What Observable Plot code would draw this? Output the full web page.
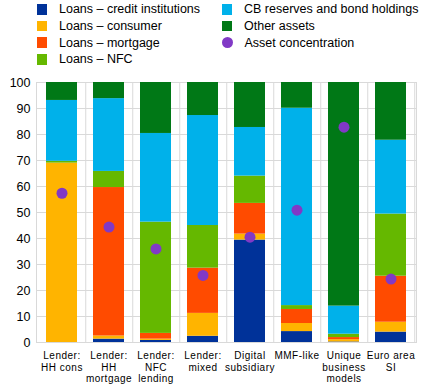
<!DOCTYPE html>
<html><head><meta charset="utf-8">
<script src="https://cdn.jsdelivr.net/npm/d3@7"></script>
<script src="https://cdn.jsdelivr.net/npm/@observablehq/plot@0.6"></script>
<style>
body{margin:0;background:#fff;font-family:"Liberation Sans",Arial,sans-serif;}
#legend{position:relative;height:70px;width:437px;font-size:12.5px;color:#000}
.col{position:absolute;top:1px}
.item{display:flex;align-items:center;height:16.7px;white-space:nowrap}
.sw{width:10.5px;height:10.5px;margin-right:12px;flex:none}
.sw.dot{border-radius:50%;width:11px;height:11px}
g[aria-label="x-axis tick label"]{letter-spacing:0.5px}
</style></head><body>
<div id="legend"></div><div id="chart"></div>
<script>
const categories = ["Lender:\nHH cons", "Lender:\nHH\nmortgage", "Lender:\nNFC\nlending", "Lender:\nmixed", "Digital\nsubsidiary", "MMF-like", "Unique\nbusiness\nmodels", "Euro area\nSI"];
const seriesNames = ["Loans – credit institutions", "Loans – consumer", "Loans – mortgage", "Loans – NFC", "CB reserves and bond holdings", "Other assets"];
const seriesColors = ["#003299", "#FFB400", "#FF4B00", "#65B800", "#00B1EA", "#007816"];
const loansCredit   = [0,    1.3,  0.8,  2.4,  39.4, 4.2,  0.2,  4.0];
const loansConsumer = [69.0, 1.2,  0.5,  8.8,  2.3,  3.1,  0.9,  3.8];
const loansMortgage = [0,    57.1, 2.2,  17.4, 11.8, 5.4,  0.8,  17.7];
const loansNFC      = [0.7,  6.2,  42.8, 16.4, 10.5, 1.5,  1.3,  23.9];
const cbReserves    = [23.4, 28.0, 34.1, 42.3, 18.7, 75.9, 10.8, 28.4];
const otherAssets   = [6.9,  6.2,  19.6, 12.7, 17.3, 9.9,  86.0, 22.2];
const assetConcentration = [57.4, 44.4, 36.0, 25.8, 40.5, 50.9, 82.8, 24.4];
const dotName = "Asset concentration";
const dotColor = "#8139C6";
const yTicks = [0, 10, 20, 30, 40, 50, 60, 70, 80, 90, 100];

const seriesValues = [loansCredit, loansConsumer, loansMortgage, loansNFC, cbReserves, otherAssets];
const table = [];
categories.forEach((c, i) => seriesNames.forEach((s, j) => table.push({category: c, series: s, value: seriesValues[j][i]})));
const dots = categories.map((c, i) => ({category: c, value: assetConcentration[i]}));

// legend
const legend = document.getElementById("legend");
const leftItems = seriesNames.slice(0, 4).map((s, j) => ({name: s, color: seriesColors[j]}));
const rightItems = seriesNames.slice(4).map((s, j) => ({name: s, color: seriesColors[j + 4]})).concat([{name: dotName, color: dotColor, dot: true}]);
[[leftItems, 36.5], [rightItems, 221.5]].forEach(([items, left]) => {
  const col = document.createElement("div");
  col.className = "col"; col.style.left = left + "px";
  items.forEach(it => {
    const row = document.createElement("div"); row.className = "item";
    const sw = document.createElement("span"); sw.className = "sw" + (it.dot ? " dot" : ""); sw.style.background = it.color;
    const tx = document.createElement("span"); tx.textContent = it.name;
    row.append(sw, tx); col.append(row);
  });
  legend.append(col);
});

const width = 437, mL = 36, mR = 21;
const step = (width - mL - mR) / categories.length;

const chart = Plot.plot({
  width, height: 320,
  marginTop: 12, marginBottom: 48, marginLeft: mL, marginRight: mR,
  style: {fontFamily: "'Liberation Sans', Arial, sans-serif", fontSize: "12.5px", color: "#000", background: "#fff"},
  x: {domain: categories, paddingInner: 0.35, paddingOuter: 0.175, label: null},
  y: {domain: [0, 100], label: null},
  color: {domain: seriesNames, range: seriesColors},
  marks: [
    Plot.ruleY(yTicks, {stroke: "#d9d9d9"}),
    Plot.ruleX(categories, {dx: step / 2, stroke: "#d9d9d9"}),
    Plot.frame({stroke: "#d9d9d9"}),
    Plot.barY(table, {x: "category", y: "value", fill: "series", order: seriesNames}),
    Plot.dot(dots, {x: "category", y: "value", fill: dotColor, r: 5.5}),
    Plot.axisY(yTicks, {tickSize: 0, tickPadding: 6, fontSize: 12.5, label: null}),
    Plot.axisX({tickSize: 0, tickPadding: 8, fontSize: 10, lineHeight: 1.17, label: null})
  ]
});
document.getElementById("chart").append(chart);
</script>
</body></html>
